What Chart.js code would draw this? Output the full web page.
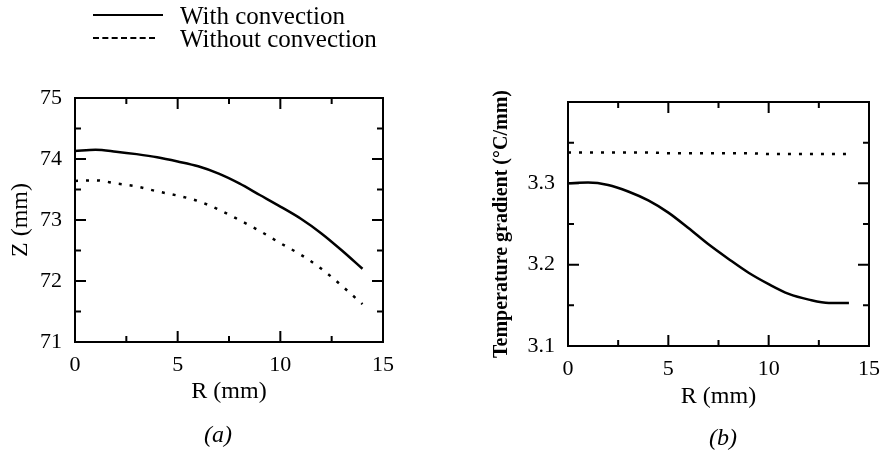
<!DOCTYPE html>
<html>
<head>
<meta charset="utf-8">
<script src="https://cdn.jsdelivr.net/npm/chart.js@4.4.1/dist/chart.umd.min.js"></script>
<style>
  html, body { margin: 0; padding: 0; background: #fff; }
  body { width: 890px; height: 453px; position: relative; overflow: hidden; font-family: "Liberation Serif", serif; color: #000; }
  .box { position: absolute; top: 0; width: 445px; height: 453px; }
  .legend { position: absolute; left: 93px; font-size: 25px; line-height: 25px; }
  .legend .row { position: relative; height: 25px; }
  .legend .swatch { position: absolute; left: 0; width: 70px; top: 11px; }
  .legend .txt { position: absolute; left: 87px; top: 0; white-space: nowrap; }
  .cap { position: absolute; font-size: 24px; font-style: italic; }
</style>
</head>
<body>
<div class="box" style="left:0"><canvas id="chartA" width="445" height="453"></canvas></div>
<div class="box" style="left:445px"><canvas id="chartB" width="445" height="453"></canvas></div>

<div class="legend" style="top:3px">
  <div class="row"><span class="swatch" style="border-top:2.5px solid #000"></span><span class="txt">With convection</span></div>
</div>
<div class="legend" style="top:26px">
  <div class="row"><span class="swatch" style="border-top:2.5px dashed #000;width:62px"></span><span class="txt">Without convection</span></div>
</div>
<div class="cap" style="left:204px;top:421px">(a)</div>
<div class="cap" style="left:709px;top:424px">(b)</div>

<script>
// radial position (mm)
const radius = [0, 1, 2, 3, 4, 5, 6, 7, 8, 9, 10, 11, 12, 13, 14];

// (a) melt interface height Z (mm)
const zWith    = [74.13, 74.15, 74.12, 74.08, 74.03, 73.96, 73.88, 73.76, 73.60, 73.41, 73.22, 73.02, 72.78, 72.50, 72.20];
const zWithout = [73.64, 73.65, 73.60, 73.55, 73.47, 73.40, 73.31, 73.17, 73.00, 72.82, 72.62, 72.43, 72.20, 71.92, 71.62];

// (b) temperature gradient (°C/mm)
const gWith    = [3.300, 3.301, 3.298, 3.290, 3.279, 3.264, 3.245, 3.225, 3.207, 3.190, 3.176, 3.164, 3.157, 3.153, 3.153];
const gWithout = [3.338, 3.338, 3.338, 3.338, 3.338, 3.337, 3.337, 3.337, 3.337, 3.337, 3.336, 3.336, 3.336, 3.336, 3.336];

// tick positions
const rTicks = [0, 2.5, 5, 7.5, 10, 12.5, 15];
const zTicks = [71, 71.5, 72, 72.5, 73, 73.5, 74, 74.5, 75];
const gTicks = [3.1, 3.15, 3.2, 3.25, 3.3, 3.35, 3.4];

const INK = '#000';
const FONT = 'Liberation Serif';

Chart.defaults.font.family = FONT;
Chart.defaults.color = INK;

function pts(ys) {
  return radius.map((r, i) => ({ x: r, y: ys[i] }));
}

// frame + inward ticks on all four sides
const frameTicks = {
  id: 'frameTicks',
  afterDraw(chart, args, opts) {
    const { ctx, chartArea: a, scales } = chart;
    ctx.save();
    ctx.strokeStyle = INK;
    ctx.lineWidth = 2;
    ctx.strokeRect(a.left, a.top, a.right - a.left, a.bottom - a.top);
    opts.xTicks.forEach(v => {
      const px = scales.x.getPixelForValue(v);
      const len = (Math.abs(v / 5 - Math.round(v / 5)) < 1e-6) ? 11 : 6;
      ctx.beginPath();
      ctx.moveTo(px, a.bottom); ctx.lineTo(px, a.bottom - len);
      ctx.moveTo(px, a.top); ctx.lineTo(px, a.top + len);
      ctx.stroke();
    });
    opts.yTicks.forEach(v => {
      const py = scales.y.getPixelForValue(v);
      const k = v / opts.yMajor;
      const len = (Math.abs(k - Math.round(k)) < 1e-6) ? 11 : 6;
      ctx.beginPath();
      ctx.moveTo(a.left, py); ctx.lineTo(a.left + len, py);
      ctx.moveTo(a.right, py); ctx.lineTo(a.right - len, py);
      ctx.stroke();
    });
    ctx.restore();
  }
};

function makeChart(id, cfg) {
  return new Chart(document.getElementById(id), {
    type: 'line',
    data: {
      datasets: [
        { data: pts(cfg.solid), borderColor: INK, borderWidth: 2.5, pointRadius: 0, cubicInterpolationMode: 'monotone', fill: false },
        { data: pts(cfg.dotted), borderColor: INK, borderWidth: 2.5, borderDash: [3, 8], pointRadius: 0, cubicInterpolationMode: 'monotone', fill: false }
      ]
    },
    options: {
      responsive: false,
      animation: false,
      layout: { padding: cfg.padding },
      plugins: {
        legend: { display: false },
        tooltip: { enabled: false },
        frameTicks: { xTicks: rTicks, yTicks: cfg.yTicks, yMajor: cfg.yMajor }
      },
      scales: {
        x: {
          type: 'linear', min: 0, max: 15,
          grid: { display: false, drawTicks: false },
          border: { display: false },
          ticks: { stepSize: 5, padding: 10, font: { size: 22 }, color: INK },
          title: { display: true, text: 'R (mm)', font: { size: 24 }, color: INK, padding: { top: 0, bottom: cfg.xTitlePad } },
          afterFit(s) { s.height = 70; }
        },
        y: {
          min: cfg.yMin, max: cfg.yMax,
          grid: { display: false, drawTicks: false },
          border: { display: false },
          ticks: {
            stepSize: cfg.yMajor, padding: 13, font: { size: 22 }, color: INK,
            callback: cfg.yLabel
          },
          title: { display: true, text: cfg.yTitle, font: { size: cfg.yTitleSize, weight: cfg.yTitleWeight }, color: INK, padding: { top: cfg.yTitlePad, bottom: 0 } },
          afterFit(s) { s.width = cfg.yWidth; }
        }
      }
    },
    plugins: [frameTicks]
  });
}

makeChart('chartA', {
  solid: zWith, dotted: zWithout,
  yMin: 71, yMax: 75, yMajor: 1, yTicks: zTicks,
  yLabel: v => String(v),
  yTitle: 'Z (mm)', yTitleSize: 24, yTitleWeight: 'normal', yTitlePad: 6, yWidth: 75,
  xTitlePad: 6,
  padding: { left: 0, right: 62, top: 98, bottom: 41 }
});

makeChart('chartB', {
  solid: gWith, dotted: gWithout,
  yMin: 3.1, yMax: 3.4, yMajor: 0.1, yTicks: gTicks,
  yLabel: v => (v > 3.35 ? '' : v.toFixed(1)),
  yTitle: 'Temperature gradient (°C/mm)', yTitleSize: 20, yTitleWeight: 'bold', yTitlePad: 45, yWidth: 123,
  xTitlePad: 5,
  padding: { left: 0, right: 13, top: 102, bottom: 37 }
});
</script>
</body>
</html>
